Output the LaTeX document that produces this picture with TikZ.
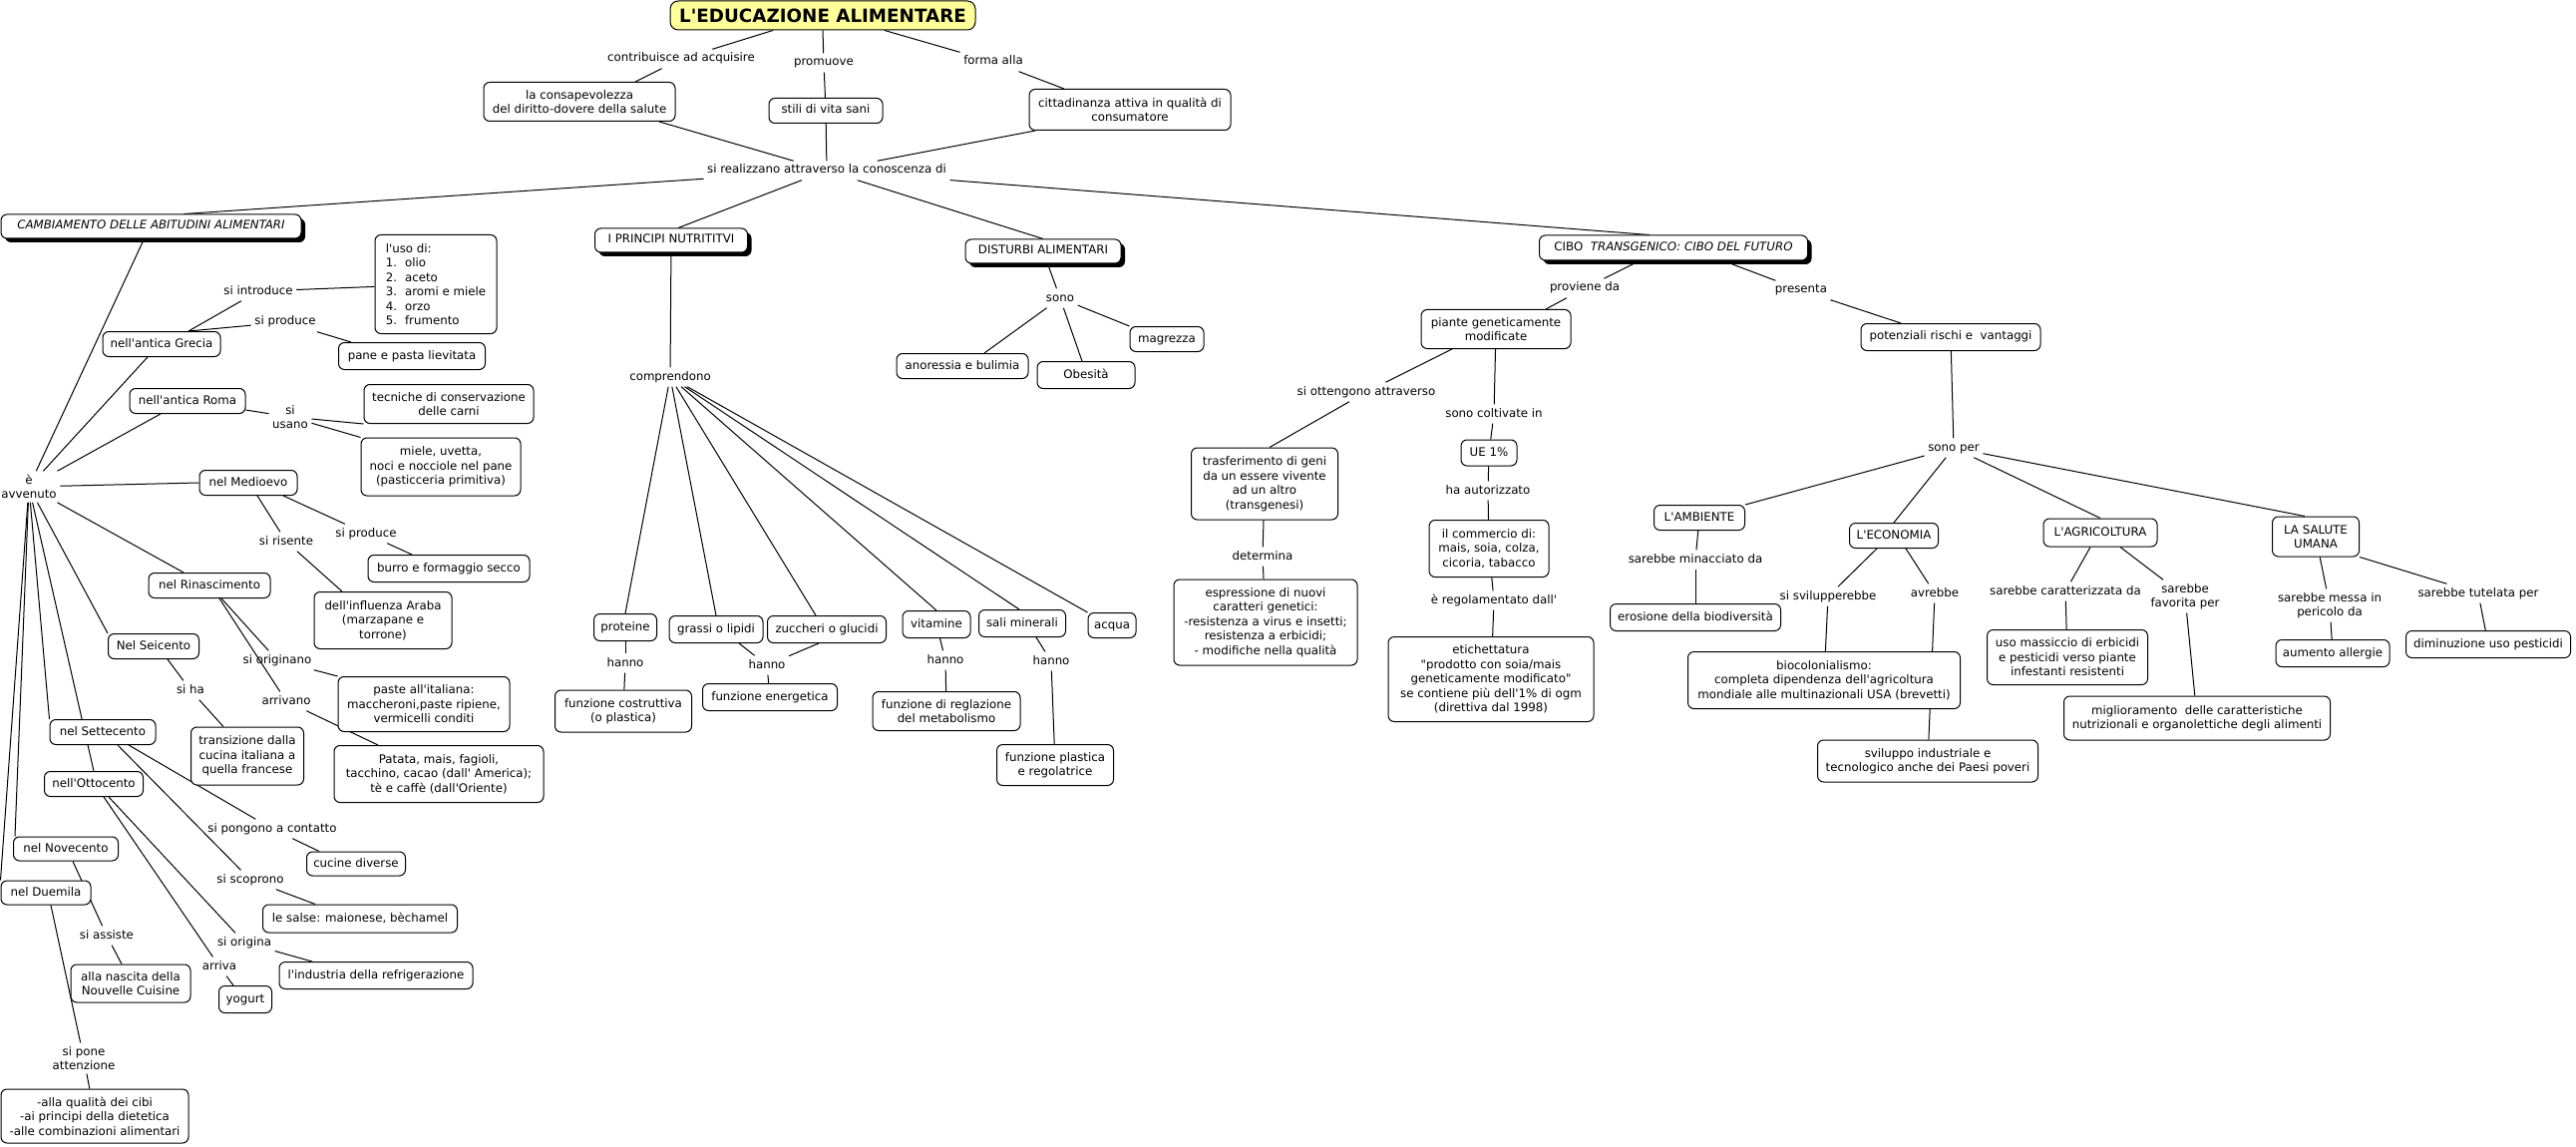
\documentclass[tikz,border=0pt]{standalone}
\usepackage{fontspec}
\newfontfamily\vf{DejaVu Sans}[ItalicFont={DejaVu Sans Oblique},BoldFont={DejaVu Sans Bold},BoldItalicFont={DejaVu Sans Bold Oblique}]
\usetikzlibrary{shadows}
\definecolor{ttl}{HTML}{FFFF99}
\pgfdeclarelayer{bgfill}
\pgfdeclarelayer{edges}
\pgfsetlayers{bgfill,edges,main}
\tikzset{
  base/.style={font=\vf\fontsize{11.8}{14.5}\selectfont},
  cpt/.style={base, draw, fill=white, line width=1pt, rounded corners=6pt, inner xsep=5pt, inner ysep=5pt, align=center},
  one/.style={text height=9pt, text depth=3pt},
  lk/.style={base, inner sep=3.5pt, align=center},
  topic/.style={cpt, one, general shadow={fill=black, shadow xshift=4pt, shadow yshift=-4pt}},
  ttlbox/.style={draw, fill=ttl, line width=1pt, rounded corners=8pt, inner sep=2pt, font=\vf\bfseries\fontsize{18.3}{20}\selectfont},
  ln/.style={line width=1pt},
}
\begin{document}
\begin{tikzpicture}[x=1pt,y=-1pt]
\begin{pgfonlayer}{bgfill}
\fill[white] (0,0) rectangle (2583,1150);
\end{pgfonlayer}
\useasboundingbox (0,0) rectangle (2583,1150);

% ---------- top ----------
\node[ttlbox,minimum width=306pt,minimum height=29pt] (t) at (825,15.5) {L'EDUCAZIONE ALIMENTARE};
\node[lk,one] (l1) at (683,59) {contribuisce ad acquisire};
\node[lk,one] (l2) at (826,63) {promuove};
\node[lk,one] (l3) at (996,62) {forma alla};
\node[cpt,minimum width=192pt,minimum height=39pt] (c1) at (581,102) {la consapevolezza\\del diritto-dovere della salute};
\node[cpt,one,minimum width=114pt,minimum height=25pt] (c2) at (828,111) {stili di vita sani};
\node[cpt,minimum width=202pt,minimum height=41pt] (c3) at (1133,110) {cittadinanza attiva in qualità di\\consumatore};
\node[lk,one] (lr) at (829,171) {si realizzano attraverso la conoscenza di};

% ---------- topics ----------
\node[topic,minimum width=301pt,minimum height=24pt] (cam) at (151.5,227) {\itshape CAMBIAMENTO DELLE ABITUDINI ALIMENTARI};
\node[topic,minimum width=153pt,minimum height=24pt] (pri) at (673,241) {I PRINCIPI NUTRITITVI};
\node[topic,minimum width=156pt,minimum height=24pt] (dis) at (1046,252) {DISTURBI ALIMENTARI};
\node[topic,minimum width=269pt,minimum height=25pt] (cibo) at (1678,248.5) {CIBO\ \ \textit{TRANSGENICO: CIBO DEL FUTURO}};

% ---------- disturbi ----------
\node[lk,one] (sono) at (1063,299) {sono};
\node[cpt,one,minimum width=132pt,minimum height=25pt] (ano) at (965,367) {anoressia e bulimia};
\node[cpt,one,minimum width=98pt,minimum height=27pt] (obe) at (1089,376) {Obesità};
\node[cpt,one,minimum width=74pt,minimum height=25pt] (mag) at (1170,340) {magrezza};

% ---------- principi ----------
\node[lk,one] (comp) at (672,378) {comprendono};
\node[cpt,one,minimum width=63pt,minimum height=27pt] (prot) at (627,629) {proteine};
\node[cpt,one,minimum width=94pt,minimum height=27pt] (gras) at (718,631) {grassi o lipidi};
\node[cpt,one,minimum width=119pt,minimum height=27pt] (zuc) at (829,631) {zuccheri o glucidi};
\node[cpt,one,minimum width=68pt,minimum height=27pt] (vit) at (939,626) {vitamine};
\node[cpt,one,minimum width=87pt,minimum height=27pt] (sali) at (1025,625) {sali minerali};
\node[cpt,one,minimum width=48pt,minimum height=25pt] (acq) at (1115,627) {acqua};
\node[lk,one] (h1) at (627,665) {hanno};
\node[lk,one] (h2) at (769,667) {hanno};
\node[lk,one] (h3) at (948,662) {hanno};
\node[lk,one] (h4) at (1054,663) {hanno};
\node[cpt,minimum width=137pt,minimum height=42pt] (fcos) at (625,713) {funzione costruttiva\\(o plastica)};
\node[cpt,one,minimum width=135pt,minimum height=27pt] (fen) at (772,699) {funzione energetica};
\node[cpt,minimum width=148pt,minimum height=39pt] (freg) at (949,713) {funzione di reglazione\\del metabolismo};
\node[cpt,minimum width=117pt,minimum height=41pt] (fpla) at (1058,767) {funzione plastica\\e regolatrice};

% ---------- cambiamento ----------
\node[lk] (ev) at (29,488) {è\\avvenuto};
\node[cpt,one,minimum width=118pt,minimum height=25pt] (gre) at (162,345) {nell'antica Grecia};
\node[cpt,one,minimum width=116pt,minimum height=25pt] (rom) at (188,402) {nell'antica Roma};
\node[cpt,one,minimum width=98pt,minimum height=25pt] (med) at (249,484) {nel Medioevo};
\node[cpt,one,minimum width=122pt,minimum height=25pt] (rin) at (210,587) {nel Rinascimento};
\node[cpt,one,minimum width=91pt,minimum height=25pt] (sei) at (154,648) {Nel Seicento};
\node[cpt,one,minimum width=106pt,minimum height=25pt] (sett) at (103,734) {nel Settecento};
\node[cpt,one,minimum width=99pt,minimum height=25pt] (otto) at (94,786) {nell'Ottocento};
\node[cpt,one,minimum width=105pt,minimum height=24pt] (nov) at (66,851) {nel Novecento};
\node[cpt,one,minimum width=90pt,minimum height=24pt] (due) at (46,895) {nel Duemila};

\node[lk,one] (sint) at (259,292) {si introduce};
\node[cpt,align=left,minimum width=122pt,minimum height=99pt] (uso) at (437,285) {l'uso di:\\1.\hspace{8pt}olio\\2.\hspace{8pt}aceto\\3.\hspace{8pt}aromi e miele\\4.\hspace{8pt}orzo\\5.\hspace{8pt}frumento};
\node[lk,one] (sp1) at (286,323) {si produce};
\node[cpt,one,minimum width=147pt,minimum height=27pt] (pane) at (413,357) {pane e pasta lievitata};

\node[lk] (su) at (291,418) {si\\usano};
\node[cpt,minimum width=170pt,minimum height=39pt] (tec) at (450,405) {tecniche di conservazione\\delle carni};
\node[cpt,minimum width=160pt,minimum height=58pt] (miele) at (442,468) {miele, uvetta,\\noci e nocciole nel pane\\(pasticceria primitiva)};

\node[lk,one] (sris) at (287,543) {si risente};
\node[lk,one] (sp2) at (367,535) {si produce};
\node[cpt,one,minimum width=162pt,minimum height=27pt] (burro) at (450,570) {burro e formaggio secco};
\node[cpt,minimum width=138pt,minimum height=57pt] (ara) at (384,622) {dell'influenza Araba\\(marzapane e\\torrone)};

\node[lk,one] (sori) at (278,662) {si originano};
\node[lk,one] (arr) at (287,703) {arrivano};
\node[cpt,minimum width=172pt,minimum height=55pt] (paste) at (425,706) {paste all'italiana:\\maccheroni,paste ripiene,\\vermicelli conditi};
\node[cpt,minimum width=210pt,minimum height=57pt] (pat) at (440,776) {Patata, mais, fagioli,\\tacchino, cacao (dall' America);\\tè e caffè (dall'Oriente)};

\node[lk,one] (sha) at (191,692) {si ha};
\node[cpt,minimum width=113pt,minimum height=58pt] (trans) at (248,758) {transizione dalla\\cucina italiana a\\quella francese};

\node[lk,one] (spon) at (273,831) {si pongono a contatto};
\node[lk,one] (ssco) at (251,882) {si scoprono};
\node[cpt,one,minimum width=99pt,minimum height=24pt] (cuc) at (357,866) {cucine diverse};
\node[cpt,one,minimum width=195pt,minimum height=28pt] (salse) at (361,921) {le salse: maionese, bèchamel};

\node[lk,one] (sor2) at (245,945) {si origina};
\node[lk,one] (arv) at (220,969) {arriva};
\node[cpt,one,minimum width=194pt,minimum height=27pt] (ind) at (377,978) {l'industria della refrigerazione};
\node[cpt,one,minimum width=53pt,minimum height=27pt] (yog) at (246,1002) {yogurt};

\node[lk,one] (sass) at (107,938) {si assiste};
\node[cpt,minimum width=120pt,minimum height=38pt] (nasc) at (131,986) {alla nascita della\\Nouvelle Cuisine};

\node[lk] (spone) at (84,1061) {si pone\\attenzione};
\node[cpt,minimum width=188pt,minimum height=54pt] (qual) at (95,1119) {-alla qualità dei cibi\\-ai principi della dietetica\\-alle combinazioni alimentari};

% ---------- cibo ----------
\node[lk,one] (prov) at (1589,289) {proviene da};
\node[lk,one] (pres) at (1806,291) {presenta};
\node[cpt,minimum width=150pt,minimum height=39pt] (pia) at (1500,330) {piante geneticamente\\modificate};
\node[cpt,one,minimum width=180pt,minimum height=27pt] (pot) at (1956,338) {potenziali rischi e\ \ vantaggi};
\node[lk,one] (sott) at (1370,393) {si ottengono attraverso};
\node[lk,one] (scol) at (1498,415) {sono coltivate in};
\node[cpt,one,minimum width=56pt,minimum height=26pt] (ue) at (1493,454) {UE 1\%};
\node[lk,one] (haut) at (1492,492) {ha autorizzato};
\node[cpt,minimum width=120pt,minimum height=57pt] (comm) at (1493,550) {il commercio di:\\mais, soia, colza,\\cicoria, tabacco};
\node[lk,one] (regol) at (1498,602) {è regolamentato dall'};
\node[cpt,minimum width=206pt,minimum height=85pt] (etic) at (1495,681) {etichettatura\\"prodotto con soia/mais\\geneticamente modificato"\\se contiene più dell'1\% di ogm\\(direttiva dal 1998)};
\node[cpt,minimum width=147pt,minimum height=72pt] (tras) at (1268,485) {trasferimento di geni\\da un essere vivente\\ad un altro\\(transgenesi)};
\node[lk,one] (det) at (1266,558) {determina};
\node[cpt,minimum width=184pt,minimum height=86pt] (espr) at (1269,624) {espressione di nuovi\\caratteri genetici:\\-resistenza a virus e insetti;\\resistenza a erbicidi;\\- modifiche nella qualità};

\node[lk,one] (sper) at (1959,449) {sono per};
\node[cpt,one,minimum width=91pt,minimum height=25pt] (amb) at (1704,519) {L'AMBIENTE};
\node[cpt,one,minimum width=89pt,minimum height=25pt] (eco) at (1899,537) {L'ECONOMIA};
\node[cpt,one,minimum width=114pt,minimum height=28pt] (agr) at (2106,534) {L'AGRICOLTURA};
\node[cpt,minimum width=87pt,minimum height=40pt] (salu) at (2322,538) {LA SALUTE\\UMANA};
\node[lk,one] (smin) at (1700,561) {sarebbe minacciato da};
\node[cpt,one,minimum width=171pt,minimum height=27pt] (eros) at (1700,619) {erosione della biodiversità};
\node[lk,one] (ssvil) at (1833,598) {si svilupperebbe};
\node[lk,one] (avr) at (1940,595) {avrebbe};
\node[cpt,minimum width=273pt,minimum height=57pt] (bioc) at (1829,682) {biocolonialismo:\\completa dipendenza dell'agricoltura\\mondiale alle multinazionali USA (brevetti)};
\node[cpt,minimum width=221pt,minimum height=42pt] (svil) at (1933,763) {sviluppo industriale e\\tecnologico anche dei Paesi poveri};
\node[lk,one] (scar) at (2071,593) {sarebbe caratterizzata da};
\node[lk] (sfav) at (2191,598) {sarebbe\\favorita per};
\node[cpt,minimum width=161pt,minimum height=55pt] (usom) at (2073,659) {uso massiccio di erbicidi\\e pesticidi verso piante\\infestanti resistenti};
\node[cpt,minimum width=267pt,minimum height=44pt] (migl) at (2203,720) {miglioramento\ \ delle caratteristiche\\nutrizionali e organolettiche degli alimenti};
\node[lk] (smes) at (2336,607) {sarebbe messa in\\pericolo da};
\node[lk,one] (stut) at (2485,595) {sarebbe tutelata per};
\node[cpt,one,minimum width=114pt,minimum height=27pt] (aum) at (2339,655) {aumento allergie};
\node[cpt,one,minimum width=165pt,minimum height=27pt] (dimi) at (2495,646) {diminuzione uso pesticidi};

% ---------- connectors ----------
\begin{pgfonlayer}{edges}
\draw[ln] ([xshift=-50pt]t.south) -- (l1);
\draw[ln] (l1) -- ([xshift=56pt]c1.north);
\draw[ln] (t.south) -- (l2);
\draw[ln] (l2) -- (c2);
\draw[ln] ([xshift=62pt]t.south) -- (l3);
\draw[ln] (l3) -- ([xshift=-66pt]c3.north);
\draw[ln] ([xshift=80pt]c1.south) -- (lr);
\draw[ln] (c2) -- (lr);
\draw[ln] ([xshift=-95pt]c3.south) -- (lr);
\draw[ln] (lr) -- ([xshift=33pt]cam.north);
\draw[ln] (lr) -- ([xshift=7pt]pri.north);
\draw[ln] (lr) -- (dis.north);
\draw[ln] (lr) -- ([xshift=-24pt]cibo.north);
\draw[ln] (dis) -- (sono);
\draw[ln] (sono) -- ([xshift=22pt]ano.north);
\draw[ln] (sono) -- ([xshift=-4pt]obe.north);
\draw[ln] (sono) -- (mag.north west);
\draw[ln] (pri) -- (comp);
\draw[ln] (comp) -- (prot.north);
\draw[ln] (comp) -- (gras.north);
\draw[ln] (comp) -- ([xshift=-11pt]zuc.north);
\draw[ln] (comp) -- (vit.north);
\draw[ln] (comp) -- ([xshift=-3pt]sali.north);
\draw[ln] (comp) -- (acq.north west);
\draw[ln] (prot) -- (h1);
\draw[ln] (h1) -- (fcos);
\draw[ln] ([xshift=23pt]gras.south) -- (h2);
\draw[ln] ([xshift=-8pt]zuc.south) -- (h2);
\draw[ln] (h2) -- (fen);
\draw[ln] (vit) -- (h3);
\draw[ln] (h3) -- (freg);
\draw[ln] ([xshift=14pt]sali.south) -- (h4);
\draw[ln] (h4) -- (fpla);
\draw[ln] ([xshift=-7pt]cam.south) -- (ev);
\draw[ln] (ev) -- ([xshift=-14pt]gre.south);
\draw[ln] (ev) -- ([xshift=-27pt]rom.south);
\draw[ln] (ev) -- (med.west);
\draw[ln] (ev) -- ([xshift=-26pt]rin.north);
\draw[ln] (ev) -- (sei.north west);
\draw[ln] (ev) -- (sett.north west);
\draw[ln] (ev) -- (otto.north);
\draw[ln] (ev) -- ([xshift=2pt]nov.north west);
\draw[ln] (ev) -- (due.north west);
\draw[ln] ([xshift=27pt]gre.north) -- (sint);
\draw[ln] (sint) -- (uso);
\draw[ln] ([xshift=27pt]gre.north) -- (sp1);
\draw[ln] (sp1) -- ([xshift=-61pt]pane.north);
\draw[ln] (rom) -- (su);
\draw[ln] (su) -- (tec.south west);
\draw[ln] (su) -- (miele.north west);
\draw[ln] ([xshift=9pt]med.south) -- (sris);
\draw[ln] (sris) -- ([xshift=-41pt]ara.north);
\draw[ln] ([xshift=35pt]med.south) -- (sp2);
\draw[ln] (sp2) -- ([xshift=-37pt]burro.north);
\draw[ln] ([xshift=12pt]rin.south) -- (sori);
\draw[ln] (sori) -- (paste.north west);
\draw[ln] ([xshift=10pt]rin.south) -- (arr);
\draw[ln] (arr) -- ([xshift=-61pt]pat.north);
\draw[ln] ([xshift=14pt]sei.south) -- (sha);
\draw[ln] (sha) -- ([xshift=-24pt]trans.north);
\draw[ln] ([xshift=26pt]sett.south) -- (spon);
\draw[ln] ([xshift=15pt]sett.south) -- (ssco);
\draw[ln] (spon) -- ([xshift=-37pt]cuc.north);
\draw[ln] (ssco) -- ([xshift=-45pt]salse.north);
\draw[ln] ([xshift=15pt]otto.south) -- (sor2);
\draw[ln] (sor2) -- ([xshift=-64pt]ind.north);
\draw[ln] ([xshift=10pt]otto.south) -- (arv);
\draw[ln] (arv) -- ([xshift=-12pt]yog.north);
\draw[ln] ([xshift=7pt]nov.south) -- (sass);
\draw[ln] (sass) -- ([xshift=-9pt]nasc.north);
\draw[ln] ([xshift=5pt]due.south) -- (spone);
\draw[ln] (spone) -- (qual);
\draw[ln] ([xshift=-34pt]cibo.south) -- (prov);
\draw[ln] (prov) -- ([xshift=50pt]pia.north);
\draw[ln] ([xshift=50pt]cibo.south) -- (pres);
\draw[ln] (pres) -- ([xshift=-50pt]pot.north);
\draw[ln] ([xshift=-44pt]pia.south) -- (sott);
\draw[ln] (sott) -- ([xshift=5pt]tras.north);
\draw[ln] (pia) -- (scol);
\draw[ln] (scol) -- (ue);
\draw[ln] (ue) -- (haut);
\draw[ln] (haut) -- (comm);
\draw[ln] (comm) -- (regol);
\draw[ln] (regol) -- (etic);
\draw[ln] (tras) -- (det);
\draw[ln] (det) -- (espr);
\draw[ln] (pot) -- (sper);
\draw[ln] (sper) -- (amb.north east);
\draw[ln] (sper) -- (eco.north);
\draw[ln] (sper) -- (agr.north);
\draw[ln] (sper) -- ([xshift=-11pt]salu.north);
\draw[ln] (amb) -- (smin);
\draw[ln] (smin) -- (eros);
\draw[ln] ([xshift=-17pt]eco.south) -- (ssvil);
\draw[ln] (ssvil) -- (bioc);
\draw[ln] ([xshift=12pt]eco.south) -- (avr);
\draw[ln] (avr) -- (svil);
\draw[ln] ([xshift=-10pt]agr.south) -- (scar);
\draw[ln] (scar) -- (usom);
\draw[ln] ([xshift=20pt]agr.south) -- (sfav);
\draw[ln] (sfav) -- (migl);
\draw[ln] (salu) -- (smes);
\draw[ln] (smes) -- (aum);
\draw[ln] (salu.south east) -- (stut);
\draw[ln] (stut) -- (dimi);
\end{pgfonlayer}
\end{tikzpicture}
\end{document}
